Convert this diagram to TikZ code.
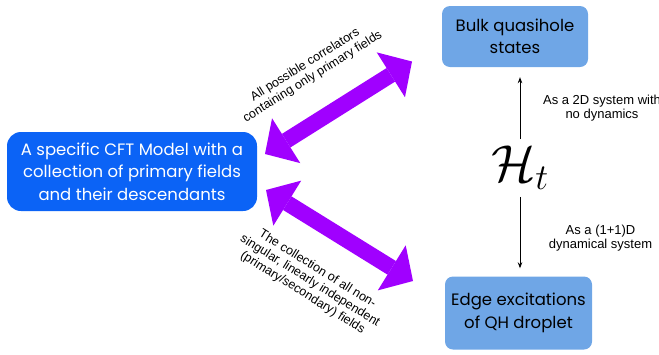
\RequirePackage{fix-cm}
\documentclass[tikz,border=0pt]{standalone}
\usepackage{fontspec}
\setmainfont{Poppins}
\newfontfamily\labelfont{Liberation Sans}
\usetikzlibrary{arrows.meta}
\definecolor{cftblue}{HTML}{0B63F6}
\definecolor{boxblue}{HTML}{6FA6E6}
\definecolor{arrowpurple}{HTML}{A000FF}
\begin{document}
\begin{tikzpicture}[x=1pt,y=-1pt,
  cftbox/.style={fill=cftblue, text=white, rounded corners=14pt, minimum width=250pt, minimum height=79pt, align=center, font=\fontsize{16.5}{22.5}\selectfont, inner sep=0pt},
  qhbox/.style={fill=boxblue, text=black, rounded corners=8pt, align=center, font=\fontsize{16.5}{22.5}\selectfont, inner sep=0pt},
  diaglbl/.style={align=center, font=\labelfont\fontsize{12.5}{14}\selectfont, inner sep=0pt},
  sidelbl/.style={align=center, font=\labelfont\fontsize{13}{14}\selectfont, inner sep=0pt},
  bigarrow/.style={draw=arrowpurple, line width=16pt, {Triangle[width=53pt,length=25pt,line width=0pt]}-{Triangle[width=53pt,length=25pt,line width=0pt]}},
  thinarrow/.style={draw=black, line width=0.9pt, -{Stealth[length=6pt,width=4.5pt]}}
]
\useasboundingbox (0,0) rectangle (659,354);
\node[cftbox] (cft) at (132,171.5) {A specific CFT Model with a\\collection of primary fields\\and their descendants};
\node[qhbox, minimum width=146pt, minimum height=61pt] (bulk) at (515,36.5) {Bulk quasihole\\states};
\node[qhbox, minimum width=147pt, minimum height=73pt] (edge) at (518.5,313) {Edge excitations\\of QH droplet};
\node[font=\fontsize{52}{52}\selectfont, inner sep=7pt] (Ht) at (520,168) {$\mathcal{H}_t$};
\draw[thinarrow, shorten >=10pt] (Ht.north) -- (Ht.north |- bulk.south);
\draw[thinarrow, shorten >=8pt] (Ht.south) -- (Ht.south |- edge.north);
\coordinate (u1) at (265,154);
\coordinate (u2) at (412,61.5);
\draw[bigarrow] (u1) -- (u2);
\coordinate (l1) at (266,190);
\coordinate (l2) at (413,281);
\draw[bigarrow] (l1) -- (l2);
\node[diaglbl, rotate=32] (lab1) at (309,71) {All possible correlators\\containing only primary fields};
\node[diaglbl, rotate=-32] (lab2) at (310,281) {The collection of all non-\\singular, linearly independent\\(primary/secondary) fields};
\node[sidelbl] (lab3) at (602,108) {As a 2D system with\\no dynamics};
\node[sidelbl] (lab4) at (600.5,238) {As a (1+1)D\\dynamical system};
\end{tikzpicture}
\end{document}
